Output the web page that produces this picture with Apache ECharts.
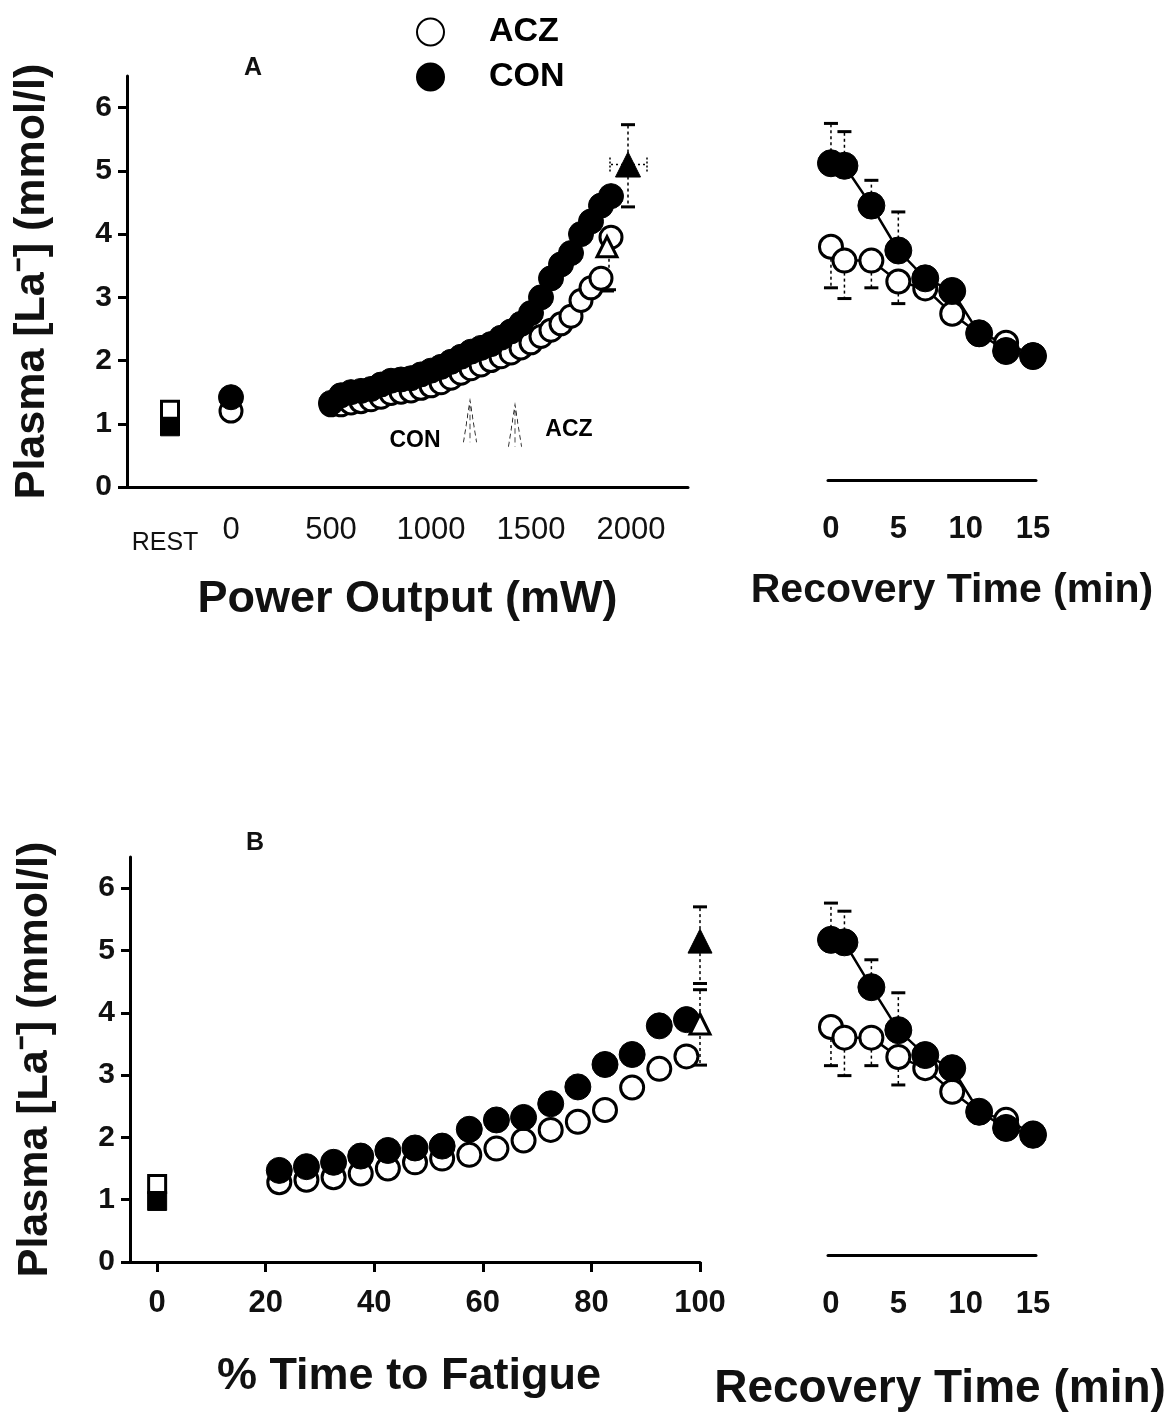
<!DOCTYPE html>
<html>
<head>
<meta charset="utf-8">
<script src="https://cdn.jsdelivr.net/npm/echarts@6/dist/echarts.min.js"></script>
<style>
  html, body { margin: 0; padding: 0; background: #fff; }
  #chart { width: 1175px; height: 1414px; }
</style>
</head>
<body>
<div id="chart"></div>
<script>
// ---- Panel A: lactate vs power output (mW) ----
const powerA = [500, 550, 600, 650, 700, 750, 800, 850, 900, 950, 1000, 1050, 1100, 1150, 1200,
                1250, 1300, 1350, 1400, 1450, 1500, 1550, 1600, 1650, 1700, 1750, 1800, 1850, 1900];
const aczA = [1.30, 1.30, 1.33, 1.35, 1.38, 1.42, 1.48, 1.50, 1.52, 1.56, 1.60, 1.65, 1.72, 1.80, 1.87,
              1.93, 2.00, 2.06, 2.12, 2.20, 2.28, 2.38, 2.48, 2.58, 2.70, 2.95, 3.15, 3.30, 3.95];
const conA = [1.33, 1.45, 1.50, 1.52, 1.55, 1.62, 1.68, 1.70, 1.72, 1.78, 1.84, 1.90, 1.98, 2.06, 2.14,
              2.20, 2.26, 2.36, 2.46, 2.58, 2.75, 3.00, 3.30, 3.52, 3.70, 4.00, 4.20, 4.45, 4.60];
// rest and 0 mW points [x, value]
const restAczA = [[-305, 1.22]];
const restConA = [[-305, 0.96]];
const zeroAczA = [[0, 1.20]];
const zeroConA = [[0, 1.42]];
// end-exercise triangles
const endAczA = [[1880, 3.80]];
const endConA = [[1985, 5.10]];
// error bars [x, from, to]
const errVA = [[1985, 5.10, 5.73], [1985, 5.10, 4.43], [1890, 3.80, 3.12], [1880, 3.30, 3.10]];
const errHA = [[1985, 5.10, 1895], [1985, 5.10, 2080]];
// threshold arrows and their labels
const arrowsA = [[1195, 1.04], [1420, 0.97]];
const arrowLabelsA = [{ name: 'CON', value: [920, 0.74] }, { name: 'ACZ', value: [1690, 0.9] }];

// ---- Recovery (min), shared x ----
const recMin = [0, 1, 3, 5, 7, 9, 11, 13, 15];
const recConA = [5.12, 5.08, 4.45, 3.74, 3.30, 3.10, 2.43, 2.15, 2.07];
const recAczA = [3.80, 3.58, 3.58, 3.25, 3.14, 2.74, 2.42, 2.28, 2.08];
const recConAUp = [5.75, 5.62, 4.85, 4.35];
const recAczALow = [3.15, 2.98, 3.15, 2.90];

// ---- Panel B: lactate vs % time to fatigue ----
const pctB = [22.5, 27.5, 32.5, 37.5, 42.5, 47.5, 52.5, 57.5, 62.5, 67.5, 72.5, 77.5, 82.5, 87.5, 92.5, 97.5];
const aczB = [1.28, 1.32, 1.36, 1.42, 1.50, 1.60, 1.66, 1.72, 1.82, 1.95, 2.12, 2.25, 2.44, 2.80, 3.10, 3.30];
const conB = [1.47, 1.53, 1.60, 1.70, 1.79, 1.83, 1.86, 2.13, 2.28, 2.32, 2.54, 2.81, 3.17, 3.33, 3.79, 3.89];
const restAczB = [[0, 1.25]];
const restConB = [[0, 0.98]];
const endAczB = [[100, 3.82]];
const endConB = [[100, 5.15]];
const errVB = [[100, 5.15, 5.70], [100, 5.15, 4.47], [100, 3.82, 4.37], [100, 3.82, 3.16]];

const recConB = [5.17, 5.13, 4.41, 3.72, 3.32, 3.11, 2.41, 2.15, 2.04];
const recAczB = [3.77, 3.60, 3.60, 3.29, 3.11, 2.73, 2.40, 2.28, 2.06];
const recConBUp = [5.76, 5.63, 4.85, 4.32];
const recAczBLow = [3.15, 2.99, 3.15, 2.84];

const yTicks = [0, 1, 2, 3, 4, 5, 6];
const FONT = '"Liberation Sans", Arial, sans-serif';

const chart = echarts.init(document.getElementById('chart'));

const pts = (xs, ys) => xs.map((x, i) => [x, ys[i]]);
const errPairs = (xs, mean, ends) => ends.map((e, i) => [xs[i], mean[i], e]);

const openStyle = { color: '#fff', borderColor: '#000', borderWidth: 3, opacity: 1 };
const fillStyle = { color: '#000', borderColor: '#000', borderWidth: 1, opacity: 1 };

// vertical error bar: dotted stem from mean to end, solid cap at end
function renderErrV(params, api) {
  const p1 = api.coord([api.value(0), api.value(1)]);
  const p2 = api.coord([api.value(0), api.value(2)]);
  return {
    type: 'group',
    children: [
      { type: 'line', shape: { x1: p1[0], y1: p1[1], x2: p2[0], y2: p2[1] },
        style: { stroke: '#000', lineWidth: 1.5, lineDash: [3, 3] } },
      { type: 'line', shape: { x1: p2[0] - 7, y1: p2[1], x2: p2[0] + 7, y2: p2[1] },
        style: { stroke: '#000', lineWidth: 3 } }
    ]
  };
}
// horizontal error bar
function renderErrH(params, api) {
  const p1 = api.coord([api.value(0), api.value(1)]);
  const p2 = api.coord([api.value(2), api.value(1)]);
  return {
    type: 'group',
    children: [
      { type: 'line', shape: { x1: p1[0], y1: p1[1], x2: p2[0], y2: p2[1] },
        style: { stroke: '#000', lineWidth: 1.5, lineDash: [2, 3] } },
      { type: 'line', shape: { x1: p2[0], y1: p2[1] - 7, x2: p2[0], y2: p2[1] + 7 },
        style: { stroke: '#000', lineWidth: 1.5, lineDash: [2, 2] } }
    ]
  };
}

function scatter(name, idx, data, style, size, symbol, z) {
  return { name, type: 'scatter', xAxisIndex: idx, yAxisIndex: idx, data,
           symbol: symbol || 'circle', symbolSize: size, itemStyle: style, z: z || 2 };
}
function line(name, idx, data, style, size, z) {
  return { name, type: 'line', xAxisIndex: idx, yAxisIndex: idx, data, symbol: 'circle',
           symbolSize: size, showSymbol: true, itemStyle: style,
           lineStyle: { color: '#000', width: 2.5 }, z: z || 2 };
}
function errSeries(idx, data, render) {
  return { type: 'custom', xAxisIndex: idx, yAxisIndex: idx, data, renderItem: render,
           silent: true, z: 1 };
}

const yAxisMain = (idx, min) => ({
  gridIndex: idx, type: 'value', min, max: 6.5,
  axisLine: { show: true, onZero: false, lineStyle: { color: '#000', width: 3 } },
  axisTick: { show: true, inside: false, length: 9, customValues: yTicks, lineStyle: { color: '#000', width: 3 } },
  axisLabel: { customValues: yTicks, fontSize: 30, fontWeight: 'bold', color: '#111', margin: 15, fontFamily: FONT },
  splitLine: { show: false },
  name: 'Plasma [La\u207B] (mmol/l)', nameLocation: 'middle', nameRotate: 90, nameGap: 73,
  nameTextStyle: { fontSize: 43, fontWeight: 'bold', color: '#111', fontFamily: FONT }
});
const yAxisRec = (idx) => ({ gridIndex: idx, type: 'value', min: 0.11, max: 6.5, show: false });

const recX = (idx, nameGap, fontSize, pad) => ({
  gridIndex: idx, type: 'value', min: -0.22, max: 15.22,
  axisLine: { onZero: false, lineStyle: { color: '#000', width: 3 } },
  axisTick: { show: false }, splitLine: { show: false },
  axisLabel: { customValues: [0, 5, 10, 15], fontSize: 31, fontWeight: 'bold', color: '#111', margin: 34, fontFamily: FONT },
  name: 'Recovery Time (min)', nameLocation: 'middle', nameGap,
  nameTextStyle: { fontSize, fontWeight: 'bold', color: '#111', fontFamily: FONT, padding: pad }
});

const option = {
  animation: false,
  backgroundColor: '#fff',
  textStyle: { fontFamily: FONT },
  legend: {
    orient: 'vertical', left: 411, top: 10, itemWidth: 27, itemHeight: 27, itemGap: 11,
    data: ['ACZ', 'CON'], selectedMode: false,
    textStyle: { fontSize: 34, fontWeight: 'bold', color: '#000', padding: [0, 0, 0, 40], fontFamily: FONT }
  },
  graphic: [
    { type: 'text', left: 244, top: 56, style: { text: 'A', fontSize: 25, fontWeight: 'bold', fill: '#111', fontFamily: FONT } },
    { type: 'text', left: 246, top: 831, style: { text: 'B', fontSize: 25, fontWeight: 'bold', fill: '#111', fontFamily: FONT } }
  ],
  grid: [
    { left: 127, top: 76, width: 561, height: 411 },
    { left: 828, top: 76, width: 208, height: 404 },
    { left: 130, top: 857, width: 570, height: 405 },
    { left: 828, top: 857, width: 208, height: 398 }
  ],
  xAxis: [
    {
      gridIndex: 0, type: 'value', min: -520, max: 2285,
      axisLine: { onZero: false, lineStyle: { color: '#000', width: 3 } },
      axisTick: { show: false }, splitLine: { show: false },
      axisLabel: {
        customValues: [-330, 0, 500, 1000, 1500, 2000],
        formatter: v => (v === -330 ? '{r|REST}' : String(v)),
        fontSize: 31, color: '#111', margin: 28, fontFamily: FONT,
        rich: { r: { fontSize: 25, color: '#111', padding: [16, 0, 0, 0], fontFamily: FONT } }
      },
      name: 'Power Output (mW)', nameLocation: 'middle', nameGap: 90,
      nameTextStyle: { fontSize: 45, fontWeight: 'bold', color: '#111', fontFamily: FONT }
    },
    recX(1, 90, 41, [0, 0, 0, 40]),
    {
      gridIndex: 2, type: 'value', min: -5, max: 100,
      axisLine: { onZero: false, lineStyle: { color: '#000', width: 3 } },
      axisTick: { show: true, length: 10, customValues: [0, 20, 40, 60, 80, 100], lineStyle: { color: '#000', width: 3 } },
      splitLine: { show: false },
      axisLabel: { customValues: [0, 20, 40, 60, 80, 100], fontSize: 31, fontWeight: 'bold', color: '#111', margin: 26, fontFamily: FONT },
      name: '% Time to Fatigue', nameLocation: 'middle', nameGap: 92,
      nameTextStyle: { fontSize: 45, fontWeight: 'bold', color: '#111', fontFamily: FONT, padding: [0, 12, 0, 0] }
    },
    recX(3, 111, 46, [0, 0, 0, 16])
  ],
  yAxis: [yAxisMain(0, 0), yAxisRec(1), yAxisMain(2, 0), yAxisRec(3)],
  series: [
    // Panel A main
    errSeries(0, errVA, renderErrV),
    errSeries(0, errHA, renderErrH),
    scatter('ACZ', 0, pts(powerA, aczA), openStyle, 22, 'circle', 2),
    scatter('CON', 0, pts(powerA, conA), fillStyle, 25, 'circle', 3),
    scatter('CON', 0, restConA, fillStyle, 19, 'rect', 2),
    scatter('ACZ', 0, restAczA, openStyle, 17, 'rect', 3),
    scatter('ACZ', 0, zeroAczA, openStyle, 22, 'circle', 2),
    scatter('CON', 0, zeroConA, fillStyle, 25, 'circle', 3),
    scatter('ACZ', 0, endAczA, openStyle, 20, 'triangle', 4),
    scatter('CON', 0, endConA, fillStyle, 25, 'triangle', 4),
    {
      type: 'scatter', xAxisIndex: 0, yAxisIndex: 0, data: arrowsA, silent: true,
      symbol: 'path://M0,60 L10,0 L20,60 M10,8 L10,60', symbolSize: [13, 42],
      itemStyle: { color: 'rgba(0,0,0,0)', borderColor: '#000', borderWidth: 1.3, borderType: [3, 2], opacity: 1 }
    },
    {
      type: 'scatter', xAxisIndex: 0, yAxisIndex: 0, data: arrowLabelsA, silent: true, symbolSize: 0,
      itemStyle: { opacity: 1 },
      label: { show: true, position: 'inside', formatter: '{b}', fontSize: 23, fontWeight: 'bold', color: '#000', fontFamily: FONT }
    },
    // Panel A recovery
    errSeries(1, errPairs(recMin, recConA, recConAUp), renderErrV),
    errSeries(1, errPairs(recMin, recAczA, recAczALow), renderErrV),
    line('ACZ', 1, pts(recMin, recAczA), openStyle, 23, 2),
    line('CON', 1, pts(recMin, recConA), fillStyle, 27, 3),
    // Panel B main
    errSeries(2, errVB, renderErrV),
    scatter('ACZ', 2, pts(pctB, aczB), openStyle, 23, 'circle', 2),
    scatter('CON', 2, pts(pctB, conB), fillStyle, 26, 'circle', 3),
    scatter('CON', 2, restConB, fillStyle, 19, 'rect', 2),
    scatter('ACZ', 2, restAczB, openStyle, 17, 'rect', 3),
    scatter('ACZ', 2, endAczB, openStyle, 20, 'triangle', 4),
    scatter('CON', 2, endConB, fillStyle, 24, 'triangle', 4),
    // Panel B recovery
    errSeries(3, errPairs(recMin, recConB, recConBUp), renderErrV),
    errSeries(3, errPairs(recMin, recAczB, recAczBLow), renderErrV),
    line('ACZ', 3, pts(recMin, recAczB), openStyle, 23, 2),
    line('CON', 3, pts(recMin, recConB), fillStyle, 27, 3)
  ]
};

chart.setOption(option);
</script>
</body>
</html>
